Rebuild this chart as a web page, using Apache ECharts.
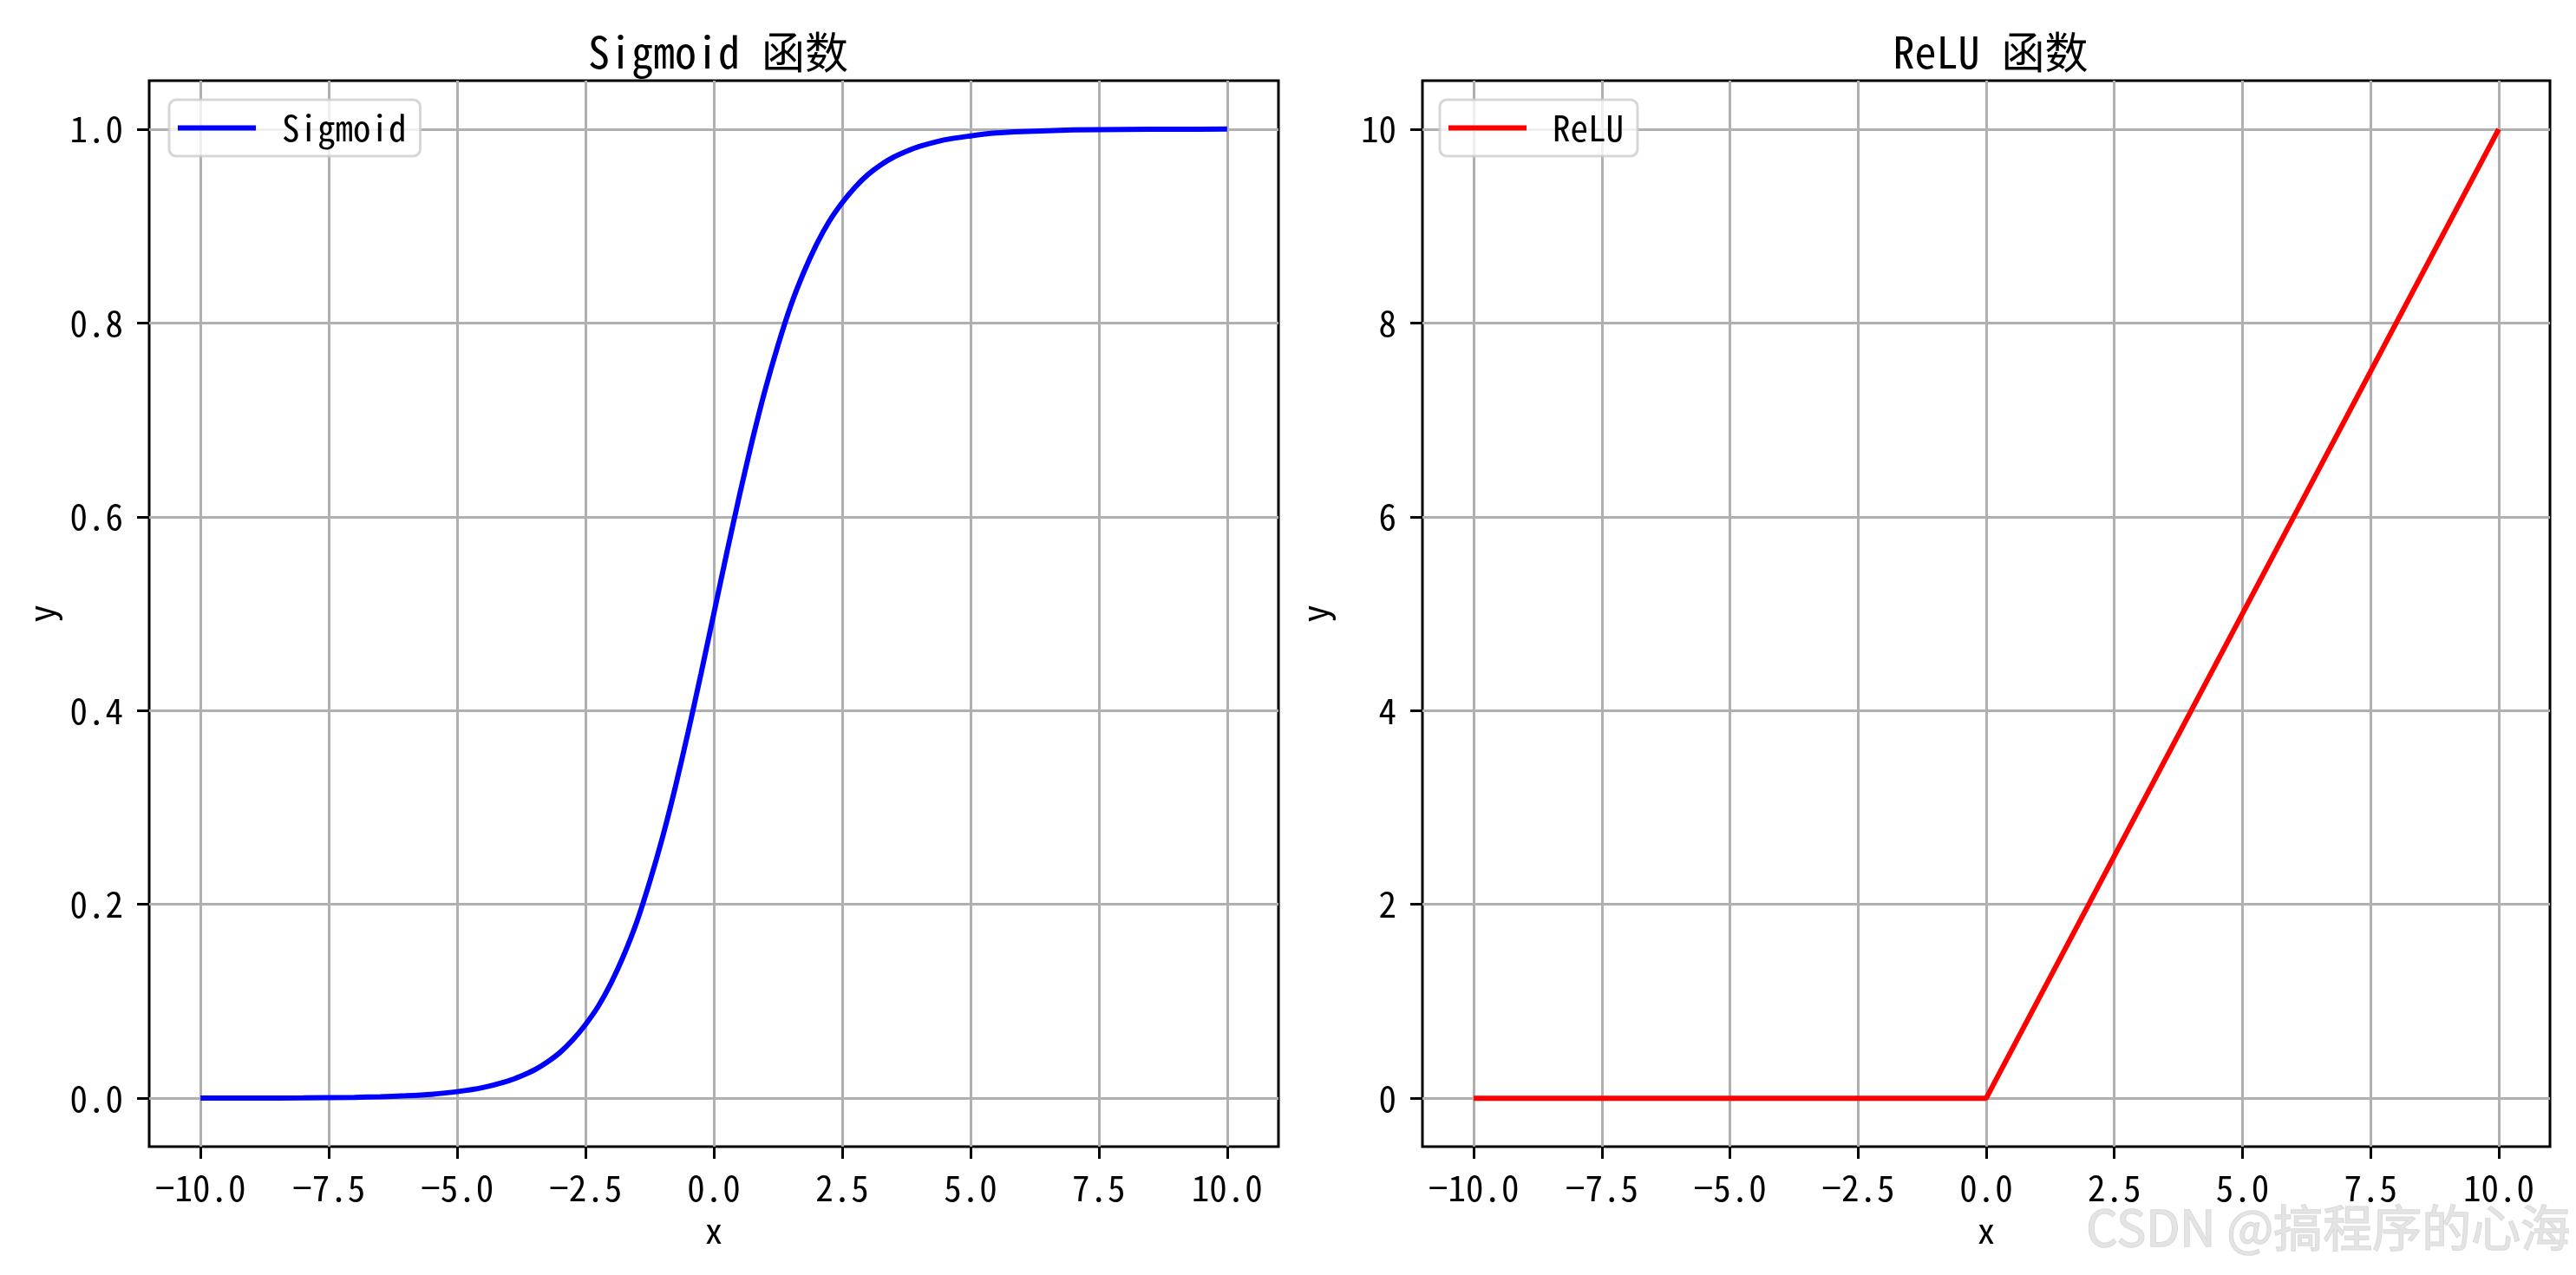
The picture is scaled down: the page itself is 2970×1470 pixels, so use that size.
<!DOCTYPE html>
<html>
<head>
<meta charset="utf-8">
<script src="https://cdn.jsdelivr.net/npm/echarts@6/dist/echarts.min.js"></script>
<style>
html,body{margin:0;padding:0;background:#fff;}
#chart{width:2970px;height:1470px;}
</style>
</head>
<body>
<div id="chart"></div>
<script>
// ---- data ----
const sigmoidX = [-10, -9, -8, -7, -6.5, -6, -5.5, -5, -4.5, -4, -3.75, -3.5, -3.25, -3, -2.75, -2.5, -2.25, -2, -1.75, -1.5, -1.25, -1, -0.75, -0.5, -0.25, 0, 0.25, 0.5, 0.75, 1, 1.25, 1.5, 1.75, 2, 2.25, 2.5, 2.75, 3, 3.25, 3.5, 3.75, 4, 4.5, 5, 5.5, 6, 7, 8, 9, 10];
const sigmoidY = [0.00005, 0.0001, 0.0003, 0.0009, 0.0015, 0.0025, 0.004, 0.0067, 0.011, 0.018, 0.023, 0.029, 0.037, 0.047, 0.060, 0.076, 0.095, 0.119, 0.148, 0.182, 0.223, 0.269, 0.321, 0.378, 0.438, 0.5, 0.562, 0.622, 0.679, 0.731, 0.777, 0.818, 0.852, 0.881, 0.905, 0.924, 0.940, 0.953, 0.963, 0.971, 0.977, 0.982, 0.989, 0.993, 0.996, 0.9975, 0.9991, 0.9997, 0.9999, 1.0];
const reluX = [-10, 0, 10];
const reluY = [0, 0, 10];
const xTicks = [-10, -7.5, -5, -2.5, 0, 2.5, 5, 7.5, 10];
const sigTicks = [0, 0.2, 0.4, 0.6, 0.8, 1.0];
const reluTicks = [0, 2, 4, 6, 8, 10];
const titles = ['Sigmoid 函数', 'ReLU 函数'];
const seriesNames = ['Sigmoid', 'ReLU'];
const watermark = 'CSDN @搞程序的心海';

const FONT = '"Noto Sans Mono CJK SC", "Noto Sans CJK SC", monospace';
const fmt1 = v => v.toFixed(1).replace('-', '\u2212');
const fmt0 = v => String(Math.round(v)).replace('-', '\u2212');

function xAxis(gi) {
  return {
    type: 'value', gridIndex: gi, min: -11, max: 11, position: 'bottom',
    name: 'x', nameLocation: 'middle', nameGap: 76,
    nameTextStyle: {fontFamily: FONT, fontSize: 41, color: '#000'},
    axisLine: {show: false, onZero: false},
    axisTick: {show: true, inside: false, length: 14, lineStyle: {color: '#000', width: 3}, customValues: xTicks},
    axisLabel: {show: true, margin: 27, fontFamily: FONT, fontSize: 41, color: '#000', formatter: fmt1, customValues: xTicks},
    splitLine: {show: true, lineStyle: {color: '#b0b0b0', width: 3}}
  };
}
function yAxis(gi, min, max, ticks, f) {
  return {
    type: 'value', gridIndex: gi, min: min, max: max, position: 'left',
    name: 'y', nameLocation: 'middle', nameGap: 104,
    nameTextStyle: {fontFamily: FONT, fontSize: 41, color: '#000'},
    axisLine: {show: false, onZero: false},
    axisTick: {show: true, inside: false, length: 14, lineStyle: {color: '#000', width: 3}, customValues: ticks},
    axisLabel: {show: true, margin: 30, fontFamily: FONT, fontSize: 41, color: '#000', formatter: f, customValues: ticks},
    splitLine: {show: true, lineStyle: {color: '#b0b0b0', width: 3}}
  };
}
function legend(left, name) {
  return {
    data: [name], left: left, top: 115, orient: 'horizontal',
    icon: 'rect', itemWidth: 90, itemHeight: 6,
    padding: [12, 16, 12, 10],
    backgroundColor: 'rgba(255,255,255,0.8)',
    borderColor: 'rgba(204,204,204,0.8)', borderWidth: 3, borderRadius: 8,
    formatter: '{a|{name}}',
    textStyle: {fontFamily: FONT, fontSize: 41, color: '#000',
      rich: {a: {fontFamily: FONT, fontSize: 41, color: '#000', padding: [0, 0, 0, 25]}}}
  };
}

const chart = echarts.init(document.getElementById('chart'), null, {renderer: 'canvas'});
chart.setOption({
  animation: false,
  backgroundColor: '#fff',
  title: [
    {text: titles[0], left: 823, top: 30, textAlign: 'center', textStyle: {fontFamily: FONT, fontSize: 50, fontWeight: 'normal', color: '#000'}},
    {text: titles[1], left: 2290, top: 30, textAlign: 'center', textStyle: {fontFamily: FONT, fontSize: 50, fontWeight: 'normal', color: '#000'}}
  ],
  grid: [
    {left: 172, top: 93, width: 1302, height: 1229, show: true, borderColor: '#000', borderWidth: 3, backgroundColor: 'transparent'},
    {left: 1640, top: 93, width: 1300, height: 1229, show: true, borderColor: '#000', borderWidth: 3, backgroundColor: 'transparent'}
  ],
  xAxis: [xAxis(0), xAxis(1)],
  yAxis: [yAxis(0, -0.05, 1.05, sigTicks, fmt1), yAxis(1, -0.5, 10.5, reluTicks, fmt0)],
  legend: [legend(195, seriesNames[0]), legend(1660, seriesNames[1])],
  series: [
    {name: seriesNames[0], type: 'line', xAxisIndex: 0, yAxisIndex: 0, showSymbol: false, symbol: 'none',
     smooth: 0.3, color: '#0000ff', lineStyle: {color: '#0000ff', width: 6},
     data: sigmoidX.map((x, i) => [x, sigmoidY[i]]), z: 5},
    {name: seriesNames[1], type: 'line', xAxisIndex: 1, yAxisIndex: 1, showSymbol: false, symbol: 'none',
     color: '#ff0000', lineStyle: {color: '#ff0000', width: 6},
     data: reluX.map((x, i) => [x, reluY[i]]), z: 5}
  ],
  graphic: [
    {type: 'text', right: 6, top: 1386, z: 100,
     style: {text: watermark, fontFamily: '"Noto Sans CJK SC", sans-serif', fontSize: 57,
       fill: 'rgba(225,225,225,0.9)', stroke: 'rgba(190,190,190,0.6)', lineWidth: 1.5}}
  ]
});
</script>
</body>
</html>
